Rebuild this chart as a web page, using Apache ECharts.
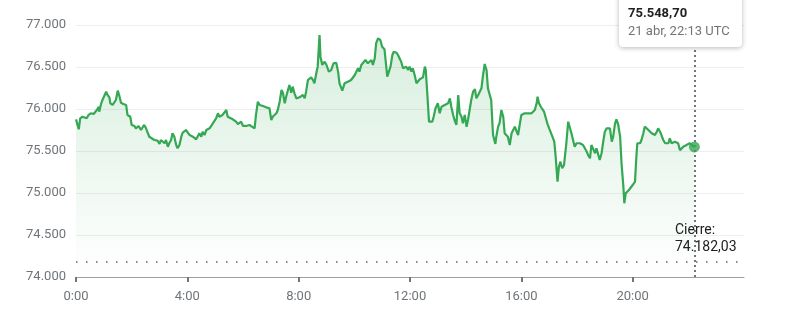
<!DOCTYPE html>
<html><head><meta charset="utf-8">
<script src="https://cdn.jsdelivr.net/npm/echarts@6/dist/echarts.min.js"></script>
<style>html,body{margin:0;padding:0;background:#fff}#c{width:796px;height:318px}</style>
</head><body><div id="c"></div>
<script>
// minutes since 0:00 UTC
const times = [0,3,6,9,14,23,27,32,38,45,49,50,54,57,61,65,68,72,74,79,83,86,90,93,97,102,108,111,117,120,126,129,135,140,144,147,151,155,158,162,169,176,180,183,187,191,194,198,201,205,208,212,216,219,223,227,230,237,241,245,252,259,262,266,270,273,277,281,288,295,302,306,309,316,324,327,331,338,345,349,352,356,360,367,374,378,385,388,392,396,403,410,417,
421,424,432,435,439,443,446,450,453,457,460,464,467,471,475,482,489,493,496,500,507,511,514,518,521,525,527,531,536,540,545,550,555,561,565,568,574,579,586,593,601,608,611,615,618,624,629,637,640,644,647,651,656,660,665,669,671,675,678,682,685,691,694,698,701,705,712,716,719,723,726,730,734,737,741,748,752,754,757,761,764,768,771,775,780,784,788,791,795,798,802,806,809,813,816,820,824,827,831,834,838,842,845,849,852,856,860,863,867,870,874,877,881,885,888,892,895,899,904,
906,910,913,917,921,924,928,931,935,939,942,946,950,953,957,960,964,967,971,975,978,982,985,989,993,995,998,1002,1006,1009,1013,1016,1020,1024,1027,1031,1034,1038,1041,1044,1048,1052,1055,1057,1061,1065,1068,1072,1075,1079,1082,1086,1090,1093,1097,1101,1104,1108,1111,1115,1119,1122,1126,1129,1133,1136,1140,1144,1147,1151,1155,1158,1162,1165,1169,1173,1176,1180,1182,1185,1189,1192,1196,1200,1203,1205,1208,1210,1213,1216,1219,1223,1226,1230,1234,1237,1241,1244,1248,1252,1255,1259,1262,1266,1270,1273,1277,1280,1284,1288,1291,1295,1298,1302,1306,1309,1316,1323,1333];
const values = [75877,75869,75758,75889,75908,75889,75929,75949,75940,75988,76027,75968,76060,76107,76107,76206,76167,76139,76068,76048,76027,76107,76218,76167,76075,76060,76048,75929,75908,75810,75798,75770,75798,75750,75770,75810,75770,75711,75670,75651,75631,75623,75584,75631,75651,75592,75631,75551,75592,75631,75711,75670,75571,75532,75571,75670,75718,75750,75730,75690,75670,75639,75670,75711,75670,75730,75690,75750,75770,75830,75889,75949,75908,75929,75988,75908,75889,75877,75849,75821,75830,75849,75798,75798,75810,75789,75770,75929,76087,76048,76036,76020,76009,
75869,75908,75949,75988,76087,76226,76194,76068,76146,76226,76286,76194,76266,76187,76127,76139,76167,76127,76206,76345,76377,76345,76306,76425,76504,76881,76623,76524,76563,76524,76444,76464,76544,76551,76444,76306,76218,76306,76325,76345,76405,76485,76444,76524,76504,76584,76544,76584,76524,76604,76782,76842,76822,76742,76711,76723,76385,76385,76504,76643,76682,76670,76643,76623,76563,76485,76504,76464,76504,76444,76485,76405,76306,76325,76354,76377,76504,76464,76206,75849,75869,75849,75908,76009,76068,75949,76027,76009,76048,76036,76068,76127,76027,75929,75869,75810,76167,75949,75908,75830,75929,75789,75869,75889,76107,76206,76235,76127,76167,76146,76246,76385,76536,76464,76246,76266,76107,75690,75584,
75670,75790,75830,75988,75908,75711,75730,75670,75571,75711,75730,75790,75730,75690,75830,75929,75908,75949,75968,75949,75968,75949,75968,75988,76068,76146,76068,76027,76048,75968,75949,75830,75770,75750,75670,75611,75432,75135,75313,75373,75294,75333,75333,75592,75849,75830,75711,75730,75551,75592,75611,75592,75611,75571,75532,75492,75450,75413,75571,75592,75473,75532,75512,75393,75473,75592,75730,75770,75790,75770,75611,75670,75830,75877,75810,75670,75354,75075,74878,74997,74976,75036,75016,75095,75075,75135,75432,75592,75611,75592,75631,75711,75790,75810,75750,75770,75711,75730,75690,75730,75770,75730,75690,75631,75592,75611,75592,75651,75592,75571,75611,75631,75592,75510,75532,75551,75571,75592,75548.70];
const closeValue = 74182.03;
const lastLabel = '21 abr, 22:13 UTC';
const yTicks = [74000,74500,75000,75500,76000,76500,77000];
const xTickLabels = ['0:00','4:00','8:00','12:00','16:00','20:00'];
const xTickValues = [0,240,480,720,960,1200];

const FONT = 'Roboto, Arial, sans-serif';
const n = Math.min(times.length, values.length);
const data = [];
for (let i = 0; i < n; i++) data.push([times[i], values[i]]);
const lastT = times[n-1], lastV = values[n-1];

function fmtInt(v){ return String(Math.round(v)).replace(/\B(?=(\d{3})+(?!\d))/g,'.'); }
function fmtDec(v){ const p = v.toFixed(2).split('.'); return p[0].replace(/\B(?=(\d{3})+(?!\d))/g,'.') + ',' + p[1]; }

const chart = echarts.init(document.getElementById('c'), null, {renderer:'canvas'});
chart.setOption({
  animation:false,
  grid:{left:76, right:52, top:25, bottom:41, containLabel:false},
  xAxis:{
    type:'value', min:0, max:1440, interval:240,
    axisLine:{show:true, lineStyle:{color:'#9e9e9e', width:1}},
    axisTick:{show:true, length:5, lineStyle:{color:'#70757a', width:2}, customValues:xTickValues},
    axisLabel:{color:'#70757a', fontSize:13, fontFamily:FONT, margin:13, customValues:xTickValues,
      formatter:v => xTickLabels[xTickValues.indexOf(v)] || ''},
    splitLine:{show:false}
  },
  yAxis:{
    type:'value', min:yTicks[0], max:yTicks[yTicks.length-1], interval:500,
    axisLine:{show:false}, axisTick:{show:false},
    axisLabel:{color:'#70757a', fontSize:13, fontFamily:FONT, margin:10, formatter:v => fmtInt(v)},
    splitLine:{show:true, lineStyle:{color:'#eeeeee', width:1}}
  },
  series:[
    {
      type:'line', data:data, showSymbol:false, symbol:'none',
      lineStyle:{color:'#34a853', width:2.2},
      areaStyle:{color:new echarts.graphic.LinearGradient(0,0,0,1,[
        {offset:0, color:'rgba(52,168,83,0.28)'},
        {offset:1, color:'rgba(52,168,83,0)'}])},
      markLine:{
        silent:true, symbol:['none','none'], label:{show:false}, animation:false,
        data:[
          {yAxis:closeValue, lineStyle:{color:'#5f6368', width:1.5, type:[1.5,8.5]}},
          {xAxis:lastT, lineStyle:{color:'#70757a', width:2, type:[2,3]}}
        ]
      },
      z:2
    },
    {
      type:'scatter', data:[[lastT,lastV]], symbolSize:11,
      itemStyle:{color:'#34a853'}, z:5, silent:true
    }
  ]
});

const endPx = chart.convertToPixel({gridIndex:0}, [1440, closeValue]);
chart.setOption({
  graphic:[
    {
      type:'group', zlevel:1, z:100, left:619, top:-6,
      children:[
        {type:'rect', z:100, shape:{x:0, y:0, width:123, height:53, r:4},
          style:{fill:'#fff', shadowBlur:5, shadowColor:'rgba(0,0,0,0.28)', shadowOffsetY:1}},
        {type:'text', z:101, x:9, y:19.5, style:{text:fmtDec(lastV), font:'bold 13px '+FONT, fill:'#202124', verticalAlign:'middle'}},
        {type:'text', z:101, x:9, y:37.7, style:{text:lastLabel, font:'13px '+FONT, fill:'#70757a', verticalAlign:'middle'}}
      ]
    },
    {
      type:'text', z:50, x:endPx[0]-69, y:endPx[1]-40,
      style:{text:'Cierre:\n' + fmtDec(closeValue), font:'14px '+FONT, fill:'#202124', lineHeight:17.5, verticalAlign:'top', align:'left'}
    }
  ]
});
</script></body></html>
